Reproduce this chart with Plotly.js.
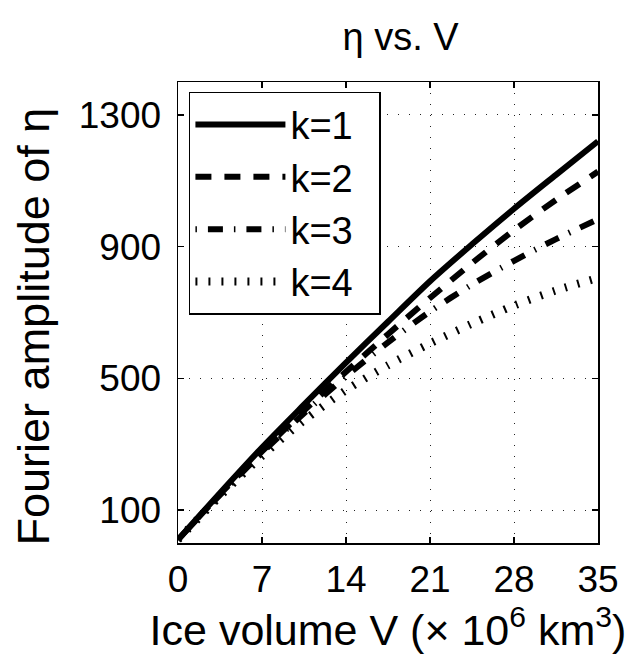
<!DOCTYPE html>
<html>
<head>
<meta charset="utf-8">
<script src="https://cdn.plot.ly/plotly-3.0.1.min.js"></script>
<style>html,body{margin:0;padding:0;background:#fff;}#chart{width:631px;height:659px;}</style>
</head>
<body>
<div id="chart"></div>
<script>
// Ice volume V (x 10^6 km^3)
const volume = [0, 3.5, 7, 10.5, 14, 17.5, 21, 24.5, 28, 31.5, 35];
// Fourier amplitude of eta for each wavenumber k
const ampK1 = [10, 152, 290, 420, 548, 672, 795, 907, 1015, 1118, 1220];
const ampK2 = [10, 148, 278, 402, 520, 634, 744, 850, 950, 1042, 1128];
const ampK3 = [10, 146, 274, 394, 506, 609, 703, 785, 857, 923, 983];
const ampK4 = [10, 142, 264, 372, 464, 540, 606, 666, 721, 767, 805];
const seriesNames = ["k=1", "k=2", "k=3", "k=4"];
const xTicks = [0, 7, 14, 21, 28, 35];
const yTicks = [100, 500, 900, 1300];

const FONT = "Liberation Sans, Arial, Helvetica, sans-serif";
const dashes = ["solid", "16px,13px", "1.5px,11px,15px,11px", "2px,11px"];
const widths = [6, 6, 6, 8];
const series = [ampK1, ampK2, ampK3, ampK4];

const traces = series.map((ys, i) => ({
  x: volume,
  y: ys,
  type: "scatter",
  mode: "lines",
  name: seriesNames[i] + "\u00a0\u00a0",
  legendgroup: "g" + i,
  line: {color: "#000", width: widths[i], dash: dashes[i], shape: "spline", smoothing: 0.8},
  hoverinfo: "skip"
}));

const axisCommon = {
  showline: true, linecolor: "#000", linewidth: 1.5, mirror: "ticks",
  ticks: "inside", ticklen: 6, tickwidth: 1.2, tickcolor: "#000",
  showgrid: true, gridcolor: "#222", gridwidth: 1, griddash: "1px,10px",
  zeroline: false, tickfont: {family: FONT, size: 37, color: "#000"},
  tickmode: "array", automargin: false
};

const layout = {
  width: 631, height: 659,
  margin: {l: 178, r: 33, t: 82, b: 116},
  paper_bgcolor: "#fff", plot_bgcolor: "#fff",
  showlegend: true,
  title: {text: "\u03b7 vs. V", font: {family: FONT, size: 38, color: "#000"},
          xref: "paper", x: 0.53, xanchor: "center", yref: "container", y: 0.945, yanchor: "middle"},
  xaxis: Object.assign({}, axisCommon, {
    range: [0, 35], tickvals: xTicks, ticktext: xTicks.map(String),
    ticklabelstandoff: 3,
    title: {text: "Ice volume V (\u00d7 10<sup>6</sup> km<sup>3</sup>)", font: {family: FONT, size: 43, color: "#000"}, standoff: 5}
  }),
  yaxis: Object.assign({}, axisCommon, {
    range: [0, 1400], tickvals: yTicks, ticktext: yTicks.map(String),
    ticklabelstandoff: 8
  }),
  annotations: [{
    text: "Fourier amplitude of \u03b7", textangle: -90,
    xref: "paper", yref: "paper", x: -0.345, y: 0.47, xanchor: "center", yanchor: "middle",
    showarrow: false, font: {family: FONT, size: 45, color: "#000"}
  }],
  legend: {
    x: 0.026, y: 0.979, xanchor: "left", yanchor: "top",
    bgcolor: "#fff", bordercolor: "#000", borderwidth: 1.5,
    font: {family: FONT, size: 38, color: "#000"},
    traceorder: "grouped", tracegroupgap: 0, itemwidth: 90
  }
};

Plotly.newPlot("chart", traces, layout, {staticPlot: true, displayModeBar: false});
</script>
</body>
</html>
